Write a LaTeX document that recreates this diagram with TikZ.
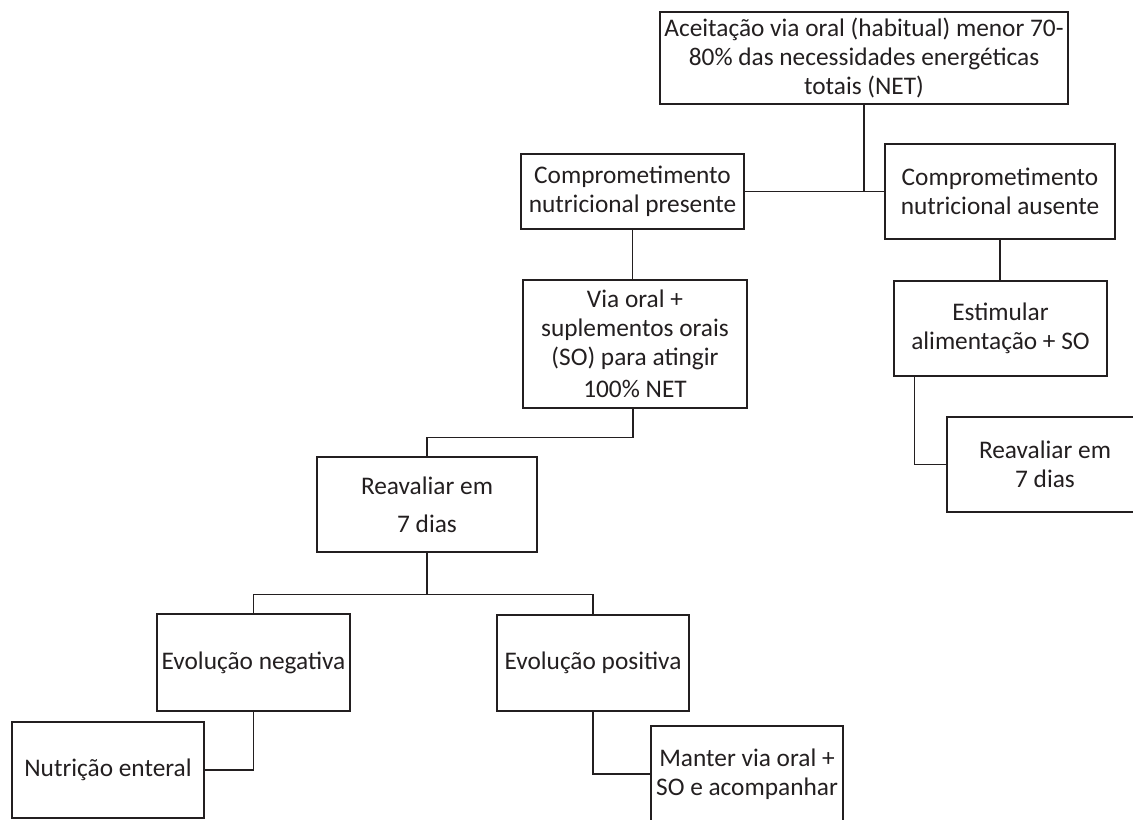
\documentclass[tikz,border=0pt]{standalone}
\usepackage{fontspec}
\setmainfont{Carlito}
\definecolor{ink}{HTML}{231F20}
\begin{document}
\begin{tikzpicture}[x=0.75pt,y=-0.75pt,
  box/.style={draw=ink, line width=0.8pt, rectangle, inner sep=0pt, align=center, text=ink,
    font=\fontsize{19}{21.5}\selectfont},
  link/.style={draw=ink, line width=0.8pt},
  trunk/.style={draw=ink, line width=1.5pt}]
\useasboundingbox (0,0) rectangle (1133,820);
\clip (0,0) rectangle (1133,820);
\fill[white] (0,0) rectangle (1133,820);

\node[box, minimum width=306pt, minimum height=69pt] (top) at (864,58)
  {Aceitação via oral (habitual) menor 70-\\80\% das necessidades energéticas\\totais (NET)};
\node[box, minimum width=167.25pt, minimum height=56.25pt] (pres) at (632.5,191.5)
  {Comprometimento\\nutricional presente};
\node[box, minimum width=172.5pt, minimum height=71.25pt] (aus) at (1000,191.5)
  {Comprometimento\\nutricional ausente};
\node[box, minimum width=168pt, minimum height=96pt] (via) at (635,344)
  {Via oral +\\suplementos orais\\(SO) para atingir\\[3pt]100\% NET};
\node[box, minimum width=159.75pt, minimum height=71.25pt] (est) at (1000.5,328.5)
  {Estimular\\alimentação + SO};
\node[box, minimum width=147pt, minimum height=71.25pt] (reavR) at (1045,464.5)
  {Reavaliar em\\7 dias};
\node[box, minimum width=165pt, minimum height=71.25pt] (reavL) at (427,504.5)
  {Reavaliar em\\[7pt]7 dias};
\node[box, minimum width=144.75pt, minimum height=72.75pt] (neg) at (253.5,662.5)
  {Evolução negativa};
\node[box, minimum width=144pt, minimum height=72pt] (pos) at (593,663)
  {Evolução positiva};
\node[box, minimum width=144pt, minimum height=72pt] (nut) at (108,770)
  {Nutrição enteral};
\node[box, minimum width=144pt, minimum height=72pt] (man) at (747,774)
  {Manter via oral +\\SO e acompanhar};

% connectors
\draw[trunk] (top.south) -- (top.south |- pres.east);
\draw[link] (pres.east) -- (aus.west);
\draw[link] (pres.south) -- (pres.south |- via.north);
\draw[link] (aus.south) -- (aus.south |- est.north);
\draw[link] ([xshift=15.75pt]est.south west) |- (reavR.west);
\draw[link] ([xshift=-1.5pt]via.south) -- ++(0,29) -| (reavL.north);
\draw[trunk] (reavL.south) -- ++(0,42) coordinate (j);
\draw[link] (neg.north) |- (j) -| (pos.north);
\draw[link] (neg.south) |- (nut.east);
\draw[link] (pos.south) |- (man.west);
\end{tikzpicture}
\end{document}
